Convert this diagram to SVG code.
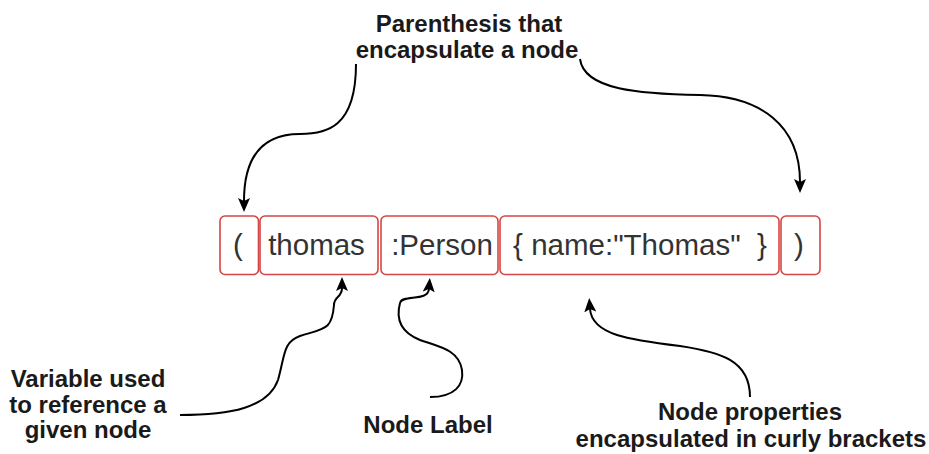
<svg xmlns="http://www.w3.org/2000/svg" width="929" height="454" viewBox="0 0 929 454">
  <style>
    .box { fill: #ffffff; stroke: #d64545; stroke-width: 1.6; }
    .code { font-family: "Liberation Sans", Arial, sans-serif; font-size: 29.5px; fill: #333333; text-anchor: middle; }
    .note { font-family: "Liberation Sans", Arial, sans-serif; font-size: 24px; font-weight: bold; fill: #1a1a1a; text-anchor: middle; }
    .wire { fill: none; stroke: #000000; stroke-width: 2; marker-end: url(#head); }
  </style>
  <defs>
    <marker id="head" markerUnits="userSpaceOnUse" markerWidth="14" markerHeight="12" refX="3" refY="6" orient="auto">
      <path d="M0,0 L14,6 L0,12 L3,6 Z" fill="#000000"/>
    </marker>
  </defs>
  <rect width="929" height="454" fill="#ffffff"/>

  <!-- pattern segments -->
  <g id="open-paren">
    <rect class="box" x="220" y="216" width="38.5" height="58.5" rx="5"/>
    <text class="code" x="238" y="255">(</text>
  </g>
  <g id="variable">
    <rect class="box" x="260" y="216" width="118" height="58.5" rx="5"/>
    <text class="code" x="316.5" y="255">thomas</text>
  </g>
  <g id="label">
    <rect class="box" x="381" y="216" width="117" height="58.5" rx="5"/>
    <text class="code" x="442" y="255">:Person</text>
  </g>
  <g id="properties">
    <rect class="box" x="500" y="216" width="279" height="58.5" rx="5"/>
    <text class="code" x="640" y="255" xml:space="preserve">{ name:"Thomas"  }</text>
  </g>
  <g id="close-paren">
    <rect class="box" x="781" y="216" width="39" height="58.5" rx="5"/>
    <text class="code" x="799" y="255">)</text>
  </g>

  <!-- annotations -->
  <g id="note-parens">
    <text class="note" x="469" y="32">Parenthesis that</text>
    <text class="note" x="467" y="58">encapsulate a node</text>
  </g>
  <g id="note-variable">
    <text class="note" x="88" y="387">Variable used</text>
    <text class="note" x="88" y="413">to reference a</text>
    <text class="note" x="88" y="438">given node</text>
  </g>
  <g id="note-label">
    <text class="note" x="428" y="433">Node Label</text>
  </g>
  <g id="note-properties">
    <text class="note" x="750" y="420">Node properties</text>
    <text class="note" x="751" y="447">encapsulated in curly brackets</text>
  </g>

  <!-- connectors -->
  <g id="connectors">
    <path class="wire" d="M356,64 C356,128 326,134 300,134 C266,134 244,152 244,201"/>
    <path class="wire" d="M580,59 C584,90 640,94 700,95 C760,96 800,125 800,182"/>
    <path class="wire" d="M180,415 C230,415 268,408 278,380 C285,355 283,342 300,336 C325,328 332,330 334,305 C334,296 342,298 342,288"/>
    <path class="wire" d="M430,397 C455,397 464,385 462,370 C459,350 440,347 420,340 C400,332 396,318 400,303 C402,294 428,302 429,289"/>
    <path class="wire" d="M750,397 C750,360 720,352 680,346 C630,340 592,335 590,309"/>
  </g>
</svg>
